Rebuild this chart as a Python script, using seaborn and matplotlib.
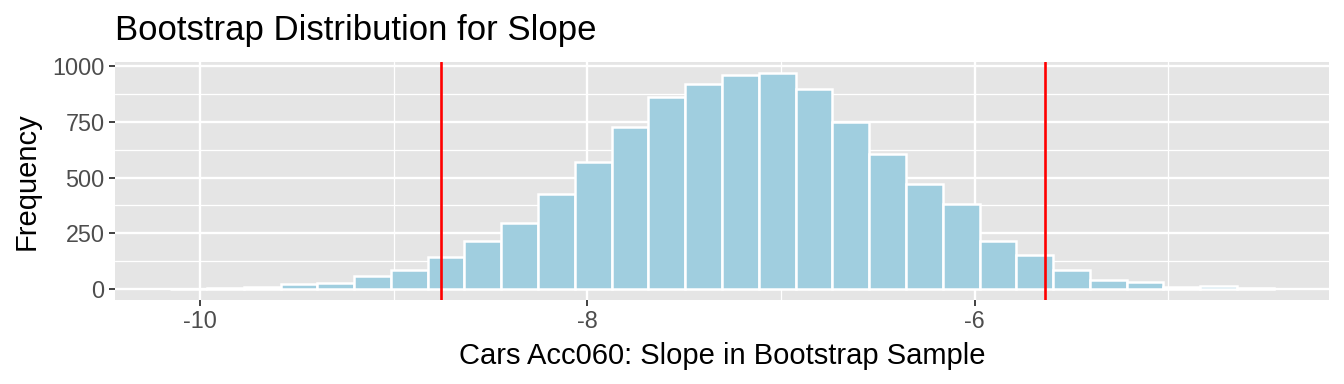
import numpy as np
import matplotlib
matplotlib.use("Agg")
import matplotlib.pyplot as plt
import seaborn as sns
from matplotlib.ticker import FixedLocator

# ---- data ----
bin_edges = [-10.155, -9.965, -9.775, -9.585, -9.395, -9.205, -9.015, -8.825,
             -8.635, -8.445, -8.255, -8.065, -7.875, -7.685, -7.495, -7.305,
             -7.115, -6.925, -6.735, -6.545, -6.355, -6.165, -5.975, -5.785,
             -5.595, -5.405, -5.215, -5.025, -4.835, -4.645, -4.455]
counts = [3, 7, 8, 21, 27, 57, 87, 142, 217, 298,
          425, 570, 727, 860, 918, 961, 969, 896, 749, 606,
          470, 382, 216, 151, 88, 40, 31, 8, 15, 5]
ci_bounds = [-8.756, -5.636]
x_ticks = [-10, -8, -6]
x_minor = [-9, -7, -5]
y_ticks = [0, 250, 500, 750, 1000]
y_minor = [125, 375, 625, 875]

title = "Bootstrap Distribution for Slope"
x_label = "Cars Acc060: Slope in Bootstrap Sample"
y_label = "Frequency"

centers = [(a + b) / 2 for a, b in zip(bin_edges[:-1], bin_edges[1:])]

sns.set_theme(style="darkgrid")
plt.rcParams['font.family'] = ['Liberation Sans', 'DejaVu Sans']

W, H = 1344, 384
fig = plt.figure(figsize=(W / 100, H / 100), dpi=100)
fig.patch.set_facecolor("white")
L, R, T, B = 115, 1329, 62, 300
ax = fig.add_axes([L / W, 1 - B / H, (R - L) / W, (B - T) / H])
ax.set_facecolor("#E5E5E5")

sns.histplot(x=centers, weights=counts, bins=bin_edges, color="#A0CEDF",
             edgecolor="white", linewidth=1.8, alpha=1, ax=ax, zorder=2)

for v in ci_bounds:
    ax.axvline(v, color="#FF0000", lw=1.9, zorder=3)

xr = bin_edges[-1] - bin_edges[0]
ax.set_xlim(bin_edges[0] - 0.05 * xr, bin_edges[-1] + 0.05 * xr)
yr = max(counts)
ax.set_ylim(-0.05 * yr, yr * 1.05)

ax.xaxis.set_major_locator(FixedLocator(x_ticks))
ax.xaxis.set_minor_locator(FixedLocator(x_minor))
ax.yaxis.set_major_locator(FixedLocator(y_ticks))
ax.yaxis.set_minor_locator(FixedLocator(y_minor))
ax.set_xticklabels([str(t) for t in x_ticks])
ax.set_yticklabels([str(t) for t in y_ticks])

ax.set_axisbelow(True)
ax.grid(which="major", color="white", lw=1.7, zorder=0)
ax.grid(which="minor", color="white", lw=0.9, zorder=0)
for s in ax.spines.values():
    s.set_visible(False)

ax.tick_params(which="major", length=4.5, width=1.3, color="#333333",
               labelcolor="#4D4D4D", labelsize=16.8, pad=3,
               bottom=True, left=True)
ax.tick_params(which="minor", length=0)

ax.set_xlabel(x_label, fontsize=21, color="black", labelpad=6)
ax.set_ylabel(y_label, fontsize=21, color="black", labelpad=8)

fig.text(L / W, 1 - 40 / H, title, fontsize=25, color="black",
         ha="left", va="baseline")

fig.savefig("out.png", dpi=100, facecolor="white")
